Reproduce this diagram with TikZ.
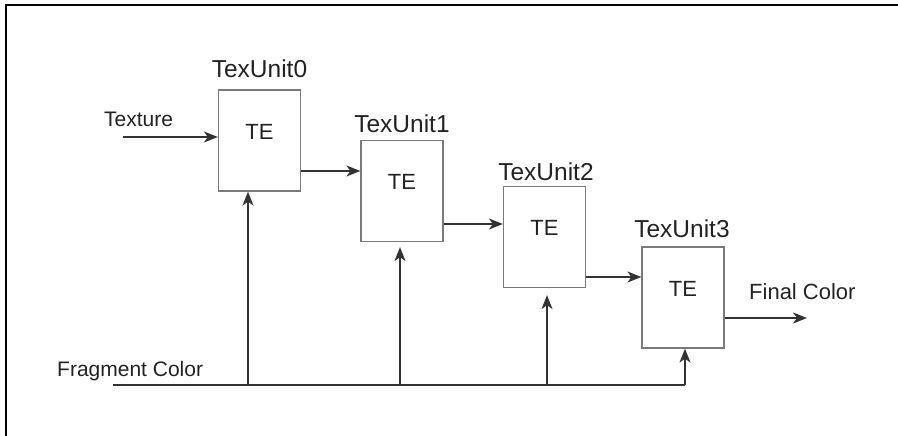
\documentclass[tikz,border=0pt]{standalone}
\usepackage{fontspec}
\setmainfont{Liberation Sans}
\usetikzlibrary{arrows.meta}
\definecolor{boxgray}{HTML}{7A7A7A}
\definecolor{linegray}{HTML}{333333}
\definecolor{txt}{HTML}{222222}
\tikzset{
  teunit/.style={draw=boxgray, line width=1.2pt, minimum width=82pt, minimum height=101pt, inner sep=0pt},
  unitlabel/.style={font=\fontsize{24.5pt}{24.5pt}\selectfont, text=txt, anchor=base, inner sep=0pt},
  sigtext/.style={font=\fontsize{21pt}{21pt}\selectfont, text=txt, anchor=base west, inner sep=0pt},
  tetext/.style={font=\fontsize{22pt}{22pt}\selectfont, text=txt, inner sep=0pt},
  flow/.style={draw=linegray, line width=1.6pt, -{Stealth[length=14pt,width=11pt,inset=4pt]}},
  wire/.style={draw=linegray, line width=1.6pt},
  frame/.style={draw=black, line width=1.6pt}
}
\begin{document}
\begin{tikzpicture}[x=1pt,y=-1pt]
\useasboundingbox (0,0) rectangle (898,436);
% frame (top and left edges)
\coordinate (fl) at (6,436);
\coordinate (fc) at (6,5);
\coordinate (fr) at (898,5);
\draw[frame] (fl) -- (fc) -- (fr);

% units
\node[teunit] (b0) at (259.5,140.5) {};
\node[teunit] (b1) at (402,191) {};
\node[teunit] (b2) at (544.5,237) {};
\node[teunit] (b3) at (683,297.5) {};

\node[tetext] (t0) at ([yshift=9pt]b0.center) {TE};
\node[tetext] (t1) at ([yshift=9pt]b1.center) {TE};
\node[tetext] (t2) at ([yshift=9pt]b2.center) {TE};
\node[tetext] (t3) at ([yshift=9pt]b3.center) {TE};

\node[unitlabel] (l0) at (259.5,78) {TexUnit0};
\node[unitlabel] (l1) at (402,132) {TexUnit1};
\node[unitlabel] (l2) at (546,180) {TexUnit2};
\node[unitlabel] (l3) at (682,237) {TexUnit3};

% signal texts
\node[sigtext] (tex) at (104,127) {Texture};
\node[sigtext] (frag) at (57,376) {Fragment Color};
\node[sigtext, font=\fontsize{22pt}{22pt}\selectfont] (fin) at (749,299) {Final Color};

% coordinates
\coordinate (texs) at (123,137);
\coordinate (fs) at (113,385);
\coordinate (j0) at (248,385);
\coordinate (j1) at (400,385);
\coordinate (j2) at (547,385);
\coordinate (j3) at (685,385);
\coordinate (fe) at (807,318);

% horizontal flow
\draw[flow] (texs) -- (texs -| b0.west);
\draw[flow] (b0.east |- 0,171) -- (b1.west |- 0,171);
\draw[flow] (b1.east |- 0,224) -- (b2.west |- 0,224);
\draw[flow] (b2.east |- 0,277) -- (b3.west |- 0,277);
\draw[flow] (b3.east |- fe) -- (fe);

% fragment colour bus
\draw[wire] (fs) -- (j3);
\draw[flow] (j0) -- (j0 |- b0.south);
\draw[flow, shorten >=5pt] (j1) -- (j1 |- b1.south);
\draw[flow, shorten >=7pt] (j2) -- (j2 |- b2.south);
\draw[flow] (j3) -- (j3 |- b3.south);
\end{tikzpicture}
\end{document}
